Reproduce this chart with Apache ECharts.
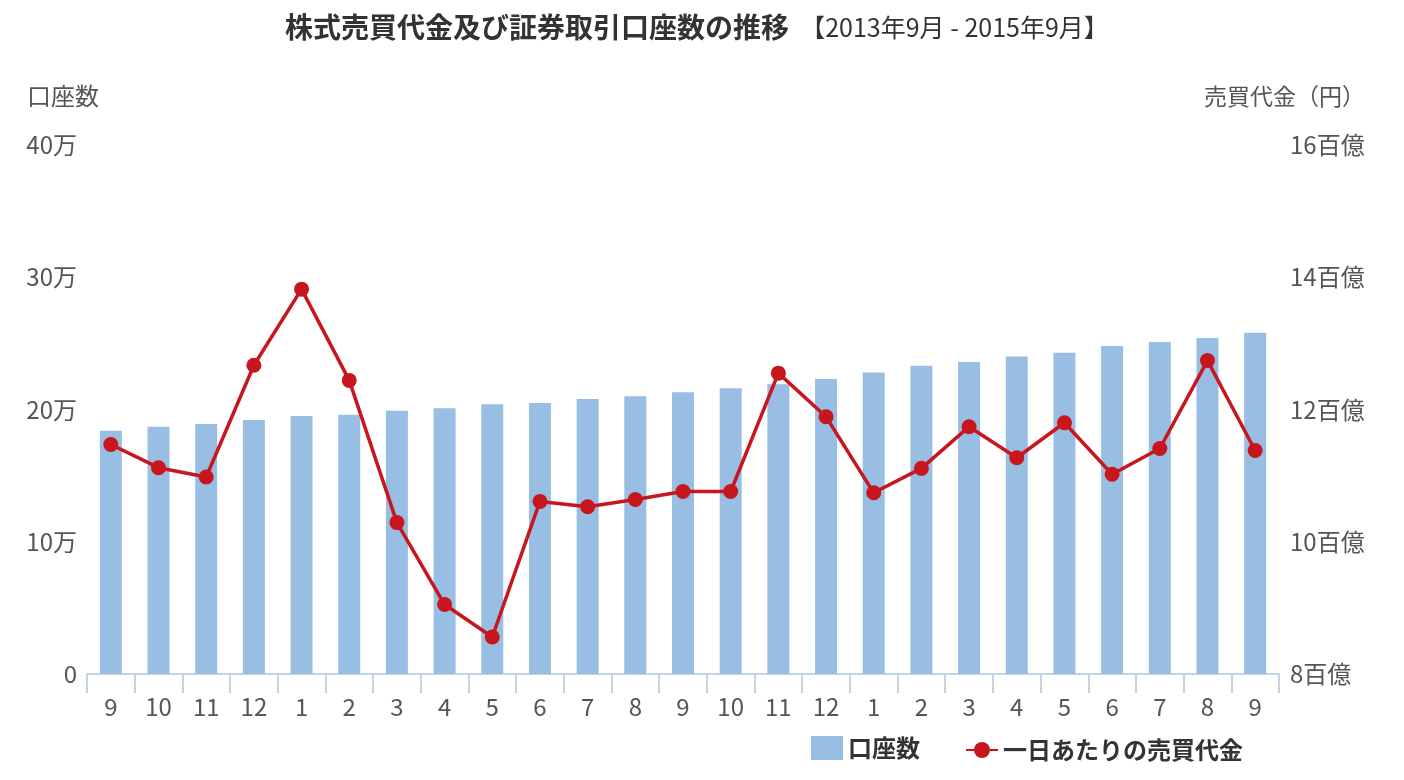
<!DOCTYPE html>
<html><head><meta charset="utf-8">
<script src="https://cdn.jsdelivr.net/npm/echarts@6/dist/echarts.min.js"></script>
<style>html,body{margin:0;padding:0;background:#fff}#c{width:1404px;height:780px}</style>
</head><body><div id="c"></div>
<script>
const categories = ['9','10','11','12','1','2','3','4','5','6','7','8','9','10','11','12','1','2','3','4','5','6','7','8','9'];
const accounts = [18.4,18.7,18.9,19.2,19.5,19.6,19.9,20.1,20.4,20.5,20.8,21.0,21.3,21.6,21.9,22.3,22.8,23.3,23.6,24.0,24.3,24.8,25.1,25.4,25.8];
const tradingValue = [11.47,11.12,10.98,12.67,13.82,12.44,10.29,9.05,8.56,10.61,10.53,10.64,10.76,10.76,12.55,11.89,10.74,11.11,11.74,11.27,11.80,11.02,11.41,12.74,11.38];
const leftTicks = {min:0, max:40, interval:10, unit:'万'};
const rightTicks = {min:8, max:16, interval:2, unit:'百億'};

const font = '"Noto Sans CJK JP", "Noto Sans", sans-serif';
const chart = echarts.init(document.getElementById('c'));
chart.setOption({
  animation:false,
  textStyle:{fontFamily:font},
  title:{
    text:'{b|株式売買代金及び証券取引口座数の推移}{n|  【2013年9月 - 2015年9月】}',
    left:280, top:8,
    textStyle:{rich:{
      b:{fontSize:28,fontWeight:'bold',color:'#333',fontFamily:font},
      n:{fontSize:25,fontWeight:'normal',color:'#333',fontFamily:font}
    }}
  },
  legend:[
    {bottom:15, left:806, itemWidth:32, itemHeight:24,
     textStyle:{fontSize:24,fontWeight:'bold',color:'#333',fontFamily:font},
     data:[{name:'口座数',icon:'rect'}]},
    {bottom:13, left:960, itemWidth:32, itemHeight:20,
     textStyle:{fontSize:24,fontWeight:'bold',color:'#333',fontFamily:font,padding:[2,0,0,0]},
     data:[{name:'一日あたりの売買代金'}]}
  ],
  grid:{left:87,right:125,top:145,bottom:106},
  xAxis:{
    type:'category', data:categories, boundaryGap:true,
    axisLine:{lineStyle:{color:'#c3d3e3',width:2}},
    axisTick:{show:true,length:19,lineStyle:{color:'#c3d3e3',width:2}},
    axisLabel:{fontSize:24,color:'#555',margin:21,fontFamily:font}
  },
  yAxis:[
    {type:'value',min:leftTicks.min,max:leftTicks.max,interval:leftTicks.interval,
     name:'口座数',nameLocation:'end',nameGap:37,
     nameTextStyle:{fontSize:24,color:'#555',align:'left',padding:[0,0,0,-60],fontFamily:font},
     splitLine:{show:false},axisLine:{show:false},axisTick:{show:false},
     axisLabel:{fontSize:24,color:'#555',margin:10,fontFamily:font,
       formatter:v=>v===0?'0':v+leftTicks.unit}},
    {type:'value',min:rightTicks.min,max:rightTicks.max,interval:rightTicks.interval,
     name:'売買代金（円）',nameLocation:'end',nameGap:37,
     nameTextStyle:{fontSize:23,color:'#555',align:'right',padding:[0,-86,0,0],fontFamily:font},
     splitLine:{show:false},axisLine:{show:false},axisTick:{show:false},
     axisLabel:{fontSize:24,color:'#555',margin:11,fontFamily:font,
       formatter:v=>v+rightTicks.unit}}
  ],
  series:[
    {name:'口座数',type:'bar',data:accounts,yAxisIndex:0,barWidth:22,
     itemStyle:{color:'#99bee3'}},
    {name:'一日あたりの売買代金',type:'line',data:tradingValue,yAxisIndex:1,
     symbol:'circle',symbolSize:15,
     lineStyle:{color:'#c8161e',width:3.5},
     itemStyle:{color:'#c8161e'}}
  ]
});
</script></body></html>
